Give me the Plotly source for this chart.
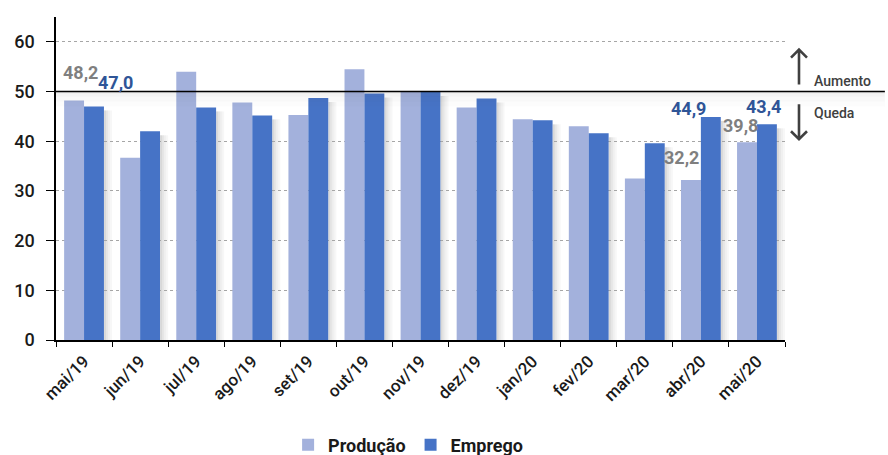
import plotly.graph_objects as go

categories = ["mai/19", "jun/19", "jul/19", "ago/19", "set/19", "out/19", "nov/19",
              "dez/19", "jan/20", "fev/20", "mar/20", "abr/20", "mai/20"]
producao = [48.2, 36.7, 54.0, 47.8, 45.3, 54.5, 49.9, 46.8, 44.4, 43.0, 32.5, 32.2, 39.8]
emprego = [47.0, 42.0, 46.8, 45.2, 48.7, 49.6, 49.9, 48.6, 44.2, 41.6, 39.6, 44.9, 43.4]
y_ticks = [0, 10, 20, 30, 40, 50, 60]

# labelled points: (category index, series, text, xshift, yshift)
labels = [
    (0, "p", "48,2", -4, 28),
    (0, "e", "47,0", 31, 24),
    (11, "p", "32,2", -19, 22),
    (11, "e", "44,9", -12, 8),
    (12, "p", "39,8", -16, 17),
    (12, "e", "43,4", 7, 18),
]

C_PROD = "#a3b1dc"
C_EMP = "#4673c6"
FONT = "Roboto"
W = 500

fig = go.Figure()
fig.add_trace(go.Bar(name="Produção", x=categories, y=producao,
                     marker=dict(color=C_PROD, line=dict(width=0))))
fig.add_trace(go.Bar(name="Emprego", x=categories, y=emprego,
                     marker=dict(color=C_EMP, line=dict(width=0))))

shapes = []
# soft shadows to the right of each group
for i, v in enumerate(emprego):
    for (a, b, op) in [(20, 22, 0.20), (22, 24, 0.13), (24, 26, 0.08), (26, 28, 0.04)]:
        shapes.append(dict(type="rect", xref="x", yref="y", xsizemode="pixel",
                           xanchor=i, x0=a, x1=b, y0=0, y1=v - 0.8,
                           fillcolor="rgba(60,60,60,%.2f)" % op, line=dict(width=0),
                           layer="below"))
# shadow under the 50 line
for (y0, y1, op) in [(49.6, 50, 0.12), (49.0, 49.6, 0.07), (48.0, 49.0, 0.04), (47.0, 48.0, 0.02)]:
    shapes.append(dict(type="rect", xref="paper", yref="y", x0=0, x1=1.137, y0=y0, y1=y1,
                       fillcolor="rgba(80,80,80,%.2f)" % op, line=dict(width=0), layer="above"))
shapes.append(dict(type="line", xref="paper", yref="y", x0=0, x1=1.137, y0=50, y1=50,
                   line=dict(color="black", width=1.5)))
# arrows (Aumento / Queda)
shapes.append(dict(type="path", xref="paper", yref="y", xsizemode="pixel", ysizemode="pixel",
                   xanchor=1.0192, yanchor=51.4,
                   path="M0,0 L0,35 M-8,27 L0,35 L8,27",
                   line=dict(color="#404040", width=2.6)))
shapes.append(dict(type="path", xref="paper", yref="y", xsizemode="pixel", ysizemode="pixel",
                   xanchor=1.0192, yanchor=40.4,
                   path="M0,0 L0,35 M-8,8 L0,0 L8,8",
                   line=dict(color="#404040", width=2.6)))

annotations = []
for (i, s, t, xs, ys) in labels:
    val = producao[i] if s == "p" else emprego[i]
    annotations.append(dict(x=categories[i], y=val, text="<b>%s</b>" % t, showarrow=False,
                            xshift=xs, yshift=ys,
                            font=dict(family=FONT, size=18,
                                      color="#7f7f7f" if s == "p" else "#2f5597")))
annotations.append(dict(xref="paper", yref="y", x=1.037, y=52.2, text="Aumento",
                        xanchor="left", showarrow=False,
                        font=dict(family=FONT, size=14, color="#404040", weight=W)))
annotations.append(dict(xref="paper", yref="y", x=1.037, y=45.6, text="Queda",
                        xanchor="left", showarrow=False,
                        font=dict(family=FONT, size=14, color="#404040", weight=W)))

fig.update_layout(
    width=888, height=455,
    margin=dict(l=56, r=103, t=17, b=115),
    paper_bgcolor="white", plot_bgcolor="white",
    barmode="group", bargap=0.29, bargroupgap=0,
    shapes=shapes, annotations=annotations,
    font=dict(family=FONT, color="#1a1a1a"),
    legend=dict(orientation="h", x=0.483, xanchor="center",
                yref="container", y=0.022, yanchor="middle",
                font=dict(family=FONT, size=18, color="#1a1a1a", weight="bold"), itemwidth=30,
                traceorder="normal", tracegroupgap=0),
    xaxis=dict(type="category", showline=True, linecolor="black", linewidth=1.5,
               ticks="outside", tickson="boundaries", ticklen=5, tickcolor="black",
               tickangle=-45, ticklabelstandoff=3,
               tickfont=dict(family=FONT, size=17, color="#1a1a1a", weight=W),
               showgrid=False, automargin=False),
    yaxis=dict(range=[0, 65], tickvals=y_ticks, showline=True, linecolor="black",
               linewidth=1.5, ticks="outside", ticklen=8, tickcolor="black",
               showgrid=True, gridcolor="#a6a6a6", griddash="dot", gridwidth=1,
               zeroline=False, ticklabelstandoff=8, automargin=False,
               tickfont=dict(family=FONT, size=18, color="#1a1a1a", weight=W)),
)

fig.write_html("out.html", config={"displayModeBar": False},
               post_script="document.body.style.margin='0';")
